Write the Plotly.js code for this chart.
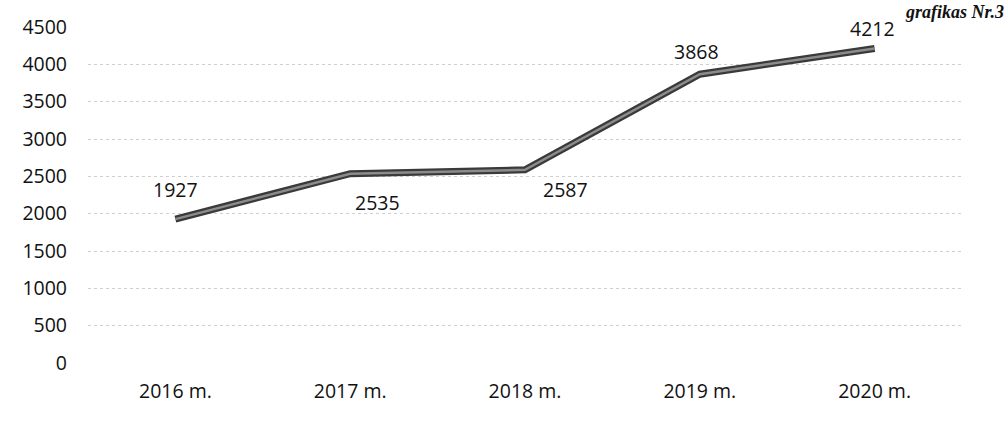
<!DOCTYPE html>
<html>
<head>
<meta charset="utf-8">
<script src="https://cdn.plot.ly/plotly-3.0.1.min.js"></script>
<style>html,body{margin:0;padding:0;background:#fff;}#chart{width:1006px;height:423px;}</style>
</head>
<body>
<div id="chart"></div>
<script>
const years = ['2016 m.', '2017 m.', '2018 m.', '2019 m.', '2020 m.'];
const values = [1927, 2535, 2587, 3868, 4212];
const labelShiftX = [0, 27, 40, -3, -2];
const labelShiftY = [30, -29, -20, 23, 20];
const yTicks = [0, 500, 1000, 1500, 2000, 2500, 3000, 3500, 4000, 4500];
const noteText = 'grafikas Nr.3';

const FONT = 'Open Sans, sans-serif';
const FS = 19.5;

const outer = {
  type: 'scatter', mode: 'lines', x: years, y: values,
  line: {color: '#3a3a3a', width: 7}, hoverinfo: 'none'
};
const inner = {
  type: 'scatter', mode: 'lines', x: years, y: values,
  line: {color: '#8c8c8c', width: 2.5}, hoverinfo: 'none'
};

const annotations = values.map((v, i) => ({
  x: years[i], y: v, xref: 'x', yref: 'y',
  text: String(v), showarrow: false,
  xshift: labelShiftX[i], yshift: labelShiftY[i],
  xanchor: 'center', yanchor: 'middle',
  font: {family: FONT, size: FS, color: '#111'}
}));

annotations.push({
  xref: 'paper', yref: 'paper', x: 1.05, y: 1 + 27 / 336,
  xanchor: 'right', yanchor: 'top', showarrow: false,
  text: '<b><i>' + noteText + '</i></b>',
  font: {family: 'Liberation Serif, serif', size: 18, color: '#111'}
});

const layout = {
  width: 1006, height: 423,
  margin: {l: 88, r: 44, t: 27, b: 60},
  paper_bgcolor: '#fff', plot_bgcolor: '#fff',
  showlegend: false,
  font: {family: FONT, size: FS, color: '#111'},
  xaxis: {
    type: 'category',
    range: [-0.5, 4.5],
    showgrid: false, zeroline: false, showline: false,
    ticks: '', ticklabelstandoff: 14,
    tickfont: {family: FONT, size: FS, color: '#111'}
  },
  yaxis: {
    range: [0, 4500],
    tickvals: yTicks,
    showgrid: true, gridcolor: '#cfcfcf', griddash: 'dot', gridwidth: 1,
    zeroline: false, showline: false, ticks: '',
    ticklabelstandoff: 20,
    tickfont: {family: FONT, size: FS, color: '#111'}
  },
  annotations: annotations
};

Plotly.newPlot('chart', [outer, inner], layout, {displayModeBar: false, staticPlot: true});
</script>
</body>
</html>
